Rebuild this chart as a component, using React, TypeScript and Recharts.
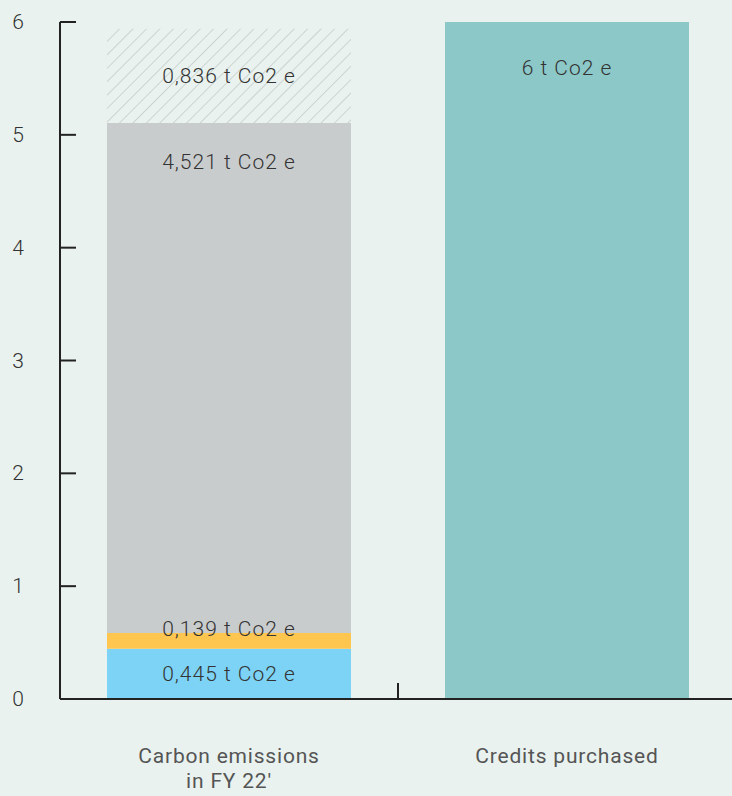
import React from "react";
import { BarChart, Bar, XAxis, YAxis, LabelList } from "recharts";

const categories = ["Carbon emissions\nin FY 22'", "Credits purchased"];
const segA = [0.445, 0];
const segB = [0.139, 0];
const segC = [4.521, 0];
const segD = [0.836, 0];
const credits = [0, 6];
const yTicks = [0, 1, 2, 3, 4, 5, 6];

const labelA = "0,445 t Co2 e";
const labelB = "0,139 t Co2 e";
const labelC = "4,521 t Co2 e";
const labelD = "0,836 t Co2 e";
const labelCredits = "6 t Co2 e";

const data = categories.map((name, i) => ({
  name,
  a: segA[i],
  b: segB[i],
  c: segC[i],
  d: segD[i],
  credits: credits[i],
}));

const FONT = "Roboto, 'DejaVu Sans', sans-serif";
const AXIS = "#222";

const YTick = (props: any) => {
  const { y, payload } = props;
  return (
    <g>
      <line x1={60} x2={76} y1={y} y2={y} stroke={AXIS} strokeWidth={2} />
      <text
        x={18}
        y={y}
        dy={7}
        textAnchor="middle"
        fontSize={21}
        fontWeight={300}
        fontFamily={FONT}
        fill="#333"
      >
        {payload.value}
      </text>
    </g>
  );
};

const XTick = (props: any) => {
  const { x, payload, index } = props;
  const lines = String(payload.value).split("\n");
  return (
    <g>
      {index === 0 && (
        <line x1={x + 169} x2={x + 169} y1={683} y2={699} stroke={AXIS} strokeWidth={2} />
      )}
      <text
        x={x}
        y={755}
        textAnchor="middle"
        fontSize={21}
        fontWeight={400}
        letterSpacing={0.8}
        fontFamily={FONT}
        fill="#555"
      >
        {lines.map((l, i) => (
          <tspan key={i} x={x} dy={i === 0 ? 8 : 25}>
            {l}
          </tspan>
        ))}
      </text>
    </g>
  );
};

// mode: where the text sits inside (or just over) its segment
const makeLabel = (text: string, mode: "center" | "top" | "above", topOffset = 46) => (props: any) => {
  const { x, y, width, height, value } = props;
  if (!value) return null;
  let ty = y + height / 2 + 7;
  if (mode === "top") ty = y + topOffset;
  if (mode === "above") ty = y + 3;
  return (
    <text
      x={x + width / 2}
      y={ty}
      textAnchor="middle"
      fontSize={21}
      fontWeight={300}
      letterSpacing={1}
      fontFamily={FONT}
      fill="#333"
    >
      {text}
    </text>
  );
};

export default function App() {
  return (
    <div
      style={{
        position: "absolute",
        left: 0,
        top: 0,
        width: 732,
        height: 796,
        background: "#e9f2ef",
      }}
    >
      <BarChart
        width={732}
        height={796}
        data={data}
        margin={{ top: 22, right: 0, bottom: 0, left: 0 }}
        barSize={244}
      >
        <defs>
          <pattern
            id="hatch"
            width="9.5"
            height="9.5"
            patternUnits="userSpaceOnUse"
            patternTransform="rotate(45)"
          >
            <line x1="0" y1="0" x2="0" y2="9.5" stroke="#c6cccb" strokeWidth={1.6} />
          </pattern>
        </defs>
        <XAxis
          dataKey="name"
          height={97}
          interval={0}
          tickLine={false}
          padding={{ left: 0, right: -4 }}
          axisLine={{ stroke: AXIS, strokeWidth: 2 }}
          tick={<XTick />}
        />
        <YAxis
          width={60}
          domain={[0, 6]}
          ticks={yTicks}
          tickLine={false}
          axisLine={{ stroke: AXIS, strokeWidth: 2 }}
          tick={<YTick />}
        />
        <Bar dataKey="a" stackId="s" fill="#7dd3f5" isAnimationActive={false}>
          <LabelList dataKey="a" content={makeLabel(labelA, "center")} />
        </Bar>
        <Bar dataKey="b" stackId="s" fill="#ffc64f" isAnimationActive={false}>
          <LabelList dataKey="b" content={makeLabel(labelB, "above")} />
        </Bar>
        <Bar dataKey="c" stackId="s" fill="#c9cccd" isAnimationActive={false}>
          <LabelList dataKey="c" content={makeLabel(labelC, "top")} />
        </Bar>
        <Bar dataKey="d" stackId="s" fill="url(#hatch)" isAnimationActive={false}>
          <LabelList dataKey="d" content={makeLabel(labelD, "center")} />
        </Bar>
        <Bar dataKey="credits" stackId="s" fill="#8cc8c8" isAnimationActive={false}>
          <LabelList dataKey="credits" content={makeLabel(labelCredits, "top", 53)} />
        </Bar>
      </BarChart>
    </div>
  );
}
